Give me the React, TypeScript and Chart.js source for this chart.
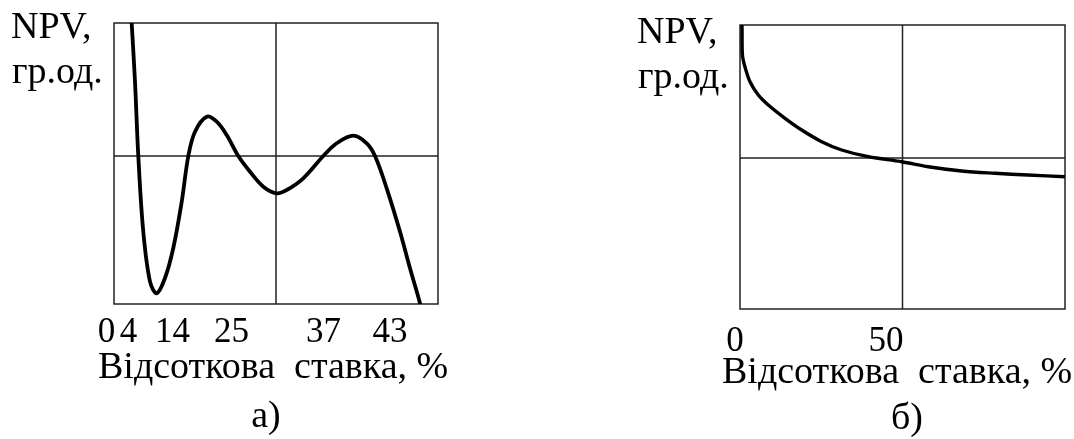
import React, { useEffect, useRef } from 'react';
import { Chart, registerables } from 'chart.js';

Chart.register(...registerables);

// ---- Panel а) : NPV with several IRRs ----
const leftRate = [2.48, 2.73, 3.24, 3.75, 4.52, 5.56, 6.59, 7.87, 9.15, 10.45, 11.47, 12.5, 14.31, 15.85, 17.39, 19.18, 20.99, 23.04, 25.11, 26.65, 29.21, 32.3, 34.37, 36.93, 39.0, 40.28, 42.08, 44.14, 45.68, 47.22, 47.38];
const leftNPV = [160, 132.7, 74.3, 0, -75.7, -125.7, -137.3, -122, -92, -45.7, 0, 24.3, 39.3, 34.3, 21, 0, -15.7, -30.7, -37.3, -34, -22.3, 0, 12.7, 20.3, 12.7, 0, -32.3, -75.7, -112.3, -147.3, -154];
const leftTickLabels = ['0', '4', '14', '25', '37', '43'];
const leftTickPos = [-1.16, 2.24, 9.03, 18.13, 32.33, 42.59];

// ---- Panel б) : conventional NPV profile ----
const rightRate = [0.3, 0.6, 0.75, 1.54, 3.08, 5.63, 8.71, 13.85, 18.98, 25.14, 31.29, 39.48, 49.75, 57.94, 68.2, 78.46, 88.6, 100];
const rightNPV = [140, 133, 103, 91, 76.3, 63, 53, 39.7, 28, 16.3, 8, 1.3, -3.7, -8.7, -13, -15.3, -17, -18.8];
const rightTickLabels = ['0', '50'];
const rightTickPos = [-1.54, 44.9];

const xTitle = 'Відсоткова  ставка, %';
const yTitle1 = 'NPV,';
const yTitle2 = 'гр.од.';

const SERIF = '"Liberation Serif", "Times New Roman", serif';

const decorPlugin = {
  id: 'panelDecor',
  beforeDatasetsDraw(chart: any, _args: any, opts: any) {
    const { ctx, chartArea: a, scales } = chart;
    ctx.save();
    ctx.strokeStyle = '#222';
    ctx.lineWidth = 1.5;
    ctx.strokeRect(a.left, a.top, a.right - a.left, a.bottom - a.top);
    const gx = scales.x.getPixelForValue(opts.gridX);
    const gy = scales.y.getPixelForValue(0);
    ctx.beginPath();
    ctx.moveTo(gx, a.top);
    ctx.lineTo(gx, a.bottom);
    ctx.moveTo(a.left, gy);
    ctx.lineTo(a.right, gy);
    ctx.stroke();
    ctx.restore();
  },
  afterDraw(chart: any, _args: any, opts: any) {
    const { ctx, scales } = chart;
    ctx.save();
    ctx.fillStyle = '#000';
    ctx.textBaseline = 'alphabetic';
    // tick labels
    ctx.font = `35px ${SERIF}`;
    ctx.textAlign = 'center';
    opts.tickPos.forEach((v: number, i: number) => {
      ctx.fillText(opts.tickLabels[i], scales.x.getPixelForValue(v), opts.tickY);
    });
    // titles
    ctx.font = `38px ${SERIF}`;
    ctx.textAlign = 'left';
    ctx.fillText(xTitle, opts.xTitleX, opts.xTitleY);
    ctx.fillText(yTitle1, opts.yTitleX, opts.yTitleY1);
    ctx.fillText(yTitle2, opts.yTitleX + 1, opts.yTitleY2);
    ctx.font = `38px ${SERIF}`;
    ctx.textAlign = 'center';
    ctx.fillText(opts.panel, opts.panelX, opts.panelY);
    ctx.restore();
  },
};

function makeChart(canvas: HTMLCanvasElement, cfg: any) {
  const data = cfg.xs.map((x: number, i: number) => ({ x, y: cfg.ys[i] }));
  return new Chart(canvas, {
    type: 'line',
    data: {
      datasets: [
        {
          data,
          borderColor: '#000',
          borderWidth: cfg.lineWidth,
          pointRadius: 0,
          tension: 0.35,
          fill: false,
        },
      ],
    },
    options: {
      responsive: false,
      animation: false,
      layout: { padding: cfg.padding },
      scales: {
        x: { type: 'linear', min: cfg.xMin, max: cfg.xMax, display: false },
        y: { type: 'linear', min: cfg.yMin, max: cfg.yMax, display: false },
      },
      plugins: {
        legend: { display: false },
        tooltip: { enabled: false },
        panelDecor: cfg.decor,
      } as any,
    },
    plugins: [decorPlugin],
  } as any);
}

export default function App() {
  const leftRef = useRef<HTMLCanvasElement>(null);
  const rightRef = useRef<HTMLCanvasElement>(null);

  useEffect(() => {
    const c1 = makeChart(leftRef.current!, {
      xs: leftRate,
      ys: leftNPV,
      xMin: 0,
      xMax: 50,
      yMin: -148,
      yMax: 133,
      lineWidth: 3.8,
      padding: { left: 114, right: 99, top: 23, bottom: 135 },
      decor: {
        gridX: 25,
        tickPos: leftTickPos,
        tickLabels: leftTickLabels,
        tickY: 342,
        xTitleX: 98,
        xTitleY: 378,
        yTitleX: 11,
        yTitleY1: 38,
        yTitleY2: 83,
        panel: 'а)',
        panelX: 266,
        panelY: 427,
      },
    });
    const off = 537;
    const c2 = makeChart(rightRef.current!, {
      xs: rightRate,
      ys: rightNPV,
      xMin: 0,
      xMax: 100,
      yMin: -151,
      yMax: 133,
      lineWidth: 3.4,
      padding: { left: 740 - off, right: 537 - (1065 - off), top: 25, bottom: 439 - 309 },
      decor: {
        gridX: 50,
        tickPos: rightTickPos,
        tickLabels: rightTickLabels,
        tickY: 351,
        xTitleX: 722 - off,
        xTitleY: 383,
        yTitleX: 637 - off,
        yTitleY1: 43,
        yTitleY2: 88,
        panel: 'б)',
        panelX: 907 - off,
        panelY: 429,
      },
    });
    return () => {
      c1.destroy();
      c2.destroy();
    };
  }, []);

  return (
    <div style={{ position: 'fixed', left: 0, top: 0, width: 1074, height: 439, background: '#fff' }}>
      <canvas ref={leftRef} width={537} height={439} style={{ position: 'absolute', left: 0, top: 0, width: 537, height: 439 }} />
      <canvas ref={rightRef} width={537} height={439} style={{ position: 'absolute', left: 537, top: 0, width: 537, height: 439 }} />
    </div>
  );
}
